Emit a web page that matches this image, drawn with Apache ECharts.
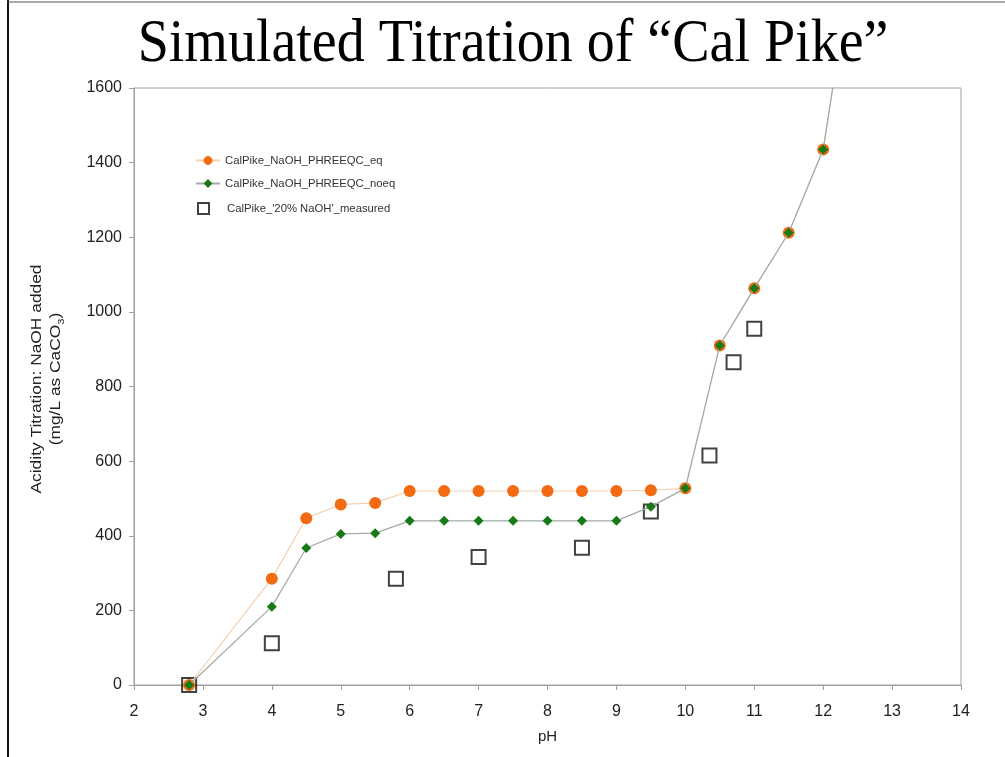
<!DOCTYPE html>
<html>
<head>
<meta charset="utf-8">
<script src="https://cdn.jsdelivr.net/npm/echarts@6/dist/echarts.min.js"></script>
<style>html,body{margin:0;padding:0;background:#fff;}#c{width:1005px;height:757px;}</style>
</head>
<body>
<div id="c"></div>
<script>
// ---- data ----
const titleText = 'Simulated Titration of \u201cCal Pike\u201d';
const seriesNames = ['CalPike_NaOH_PHREEQC_eq', 'CalPike_NaOH_PHREEQC_noeq', "CalPike_'20% NaOH'_measured"];
const modelPH = [2.8, 4, 4.5, 5, 5.5, 6, 6.5, 7, 7.5, 8, 8.5, 9, 9.5, 10, 10.5, 11, 11.5, 12, 12.5];
const eqValues = [0, 285, 447, 484, 488, 520, 520, 520, 520, 520, 520, 520, 522, 527, 910, 1063, 1212, 1435, 2030];
const noeqValues = [0, 210, 367, 405, 407, 440, 440, 440, 440, 440, 440, 440, 478, 527, 910, 1063, 1212, 1435, 2030];
const measuredPH = [2.8, 4, 5.8, 7, 8.5, 9.5, 10.35, 10.7, 11];
const measuredValues = [0, 112, 285, 343, 368, 465, 615, 865, 955];
const xTicks = [2, 3, 4, 5, 6, 7, 8, 9, 10, 11, 12, 13, 14];
const yTicks = [0, 200, 400, 600, 800, 1000, 1200, 1400, 1600];

const lastHidden = modelPH.length - 1; // last model point lies beyond the axis top (line only)
function modelData(vals) {
  return modelPH.map((x, i) => i === lastHidden ? { value: [x, vals[i]], symbol: 'none' } : [x, vals[i]]);
}

const chart = echarts.init(document.getElementById('c'), null, { renderer: 'canvas' });
const axisFont = { fontFamily: 'Liberation Sans, Arial', fontSize: 16, color: '#222' };
const legendText = { fontFamily: 'Liberation Sans, Arial', fontSize: 11.3, color: '#333' };

chart.setOption({
  backgroundColor: '#fff',
  animation: false,
  grid: { left: 134, right: 44, top: 88, bottom: 72, show: true, borderColor: '#a0a0a0', borderWidth: 1, backgroundColor: 'transparent' },
  xAxis: {
    type: 'value', min: xTicks[0], max: xTicks[xTicks.length - 1], interval: 1,
    axisLine: { lineStyle: { color: '#a0a0a0' } },
    axisTick: { show: true, length: 5, lineStyle: { color: '#a0a0a0' } },
    splitLine: { show: false },
    axisLabel: Object.assign({ margin: 19, formatter: v => String(v) }, axisFont),
    name: 'pH', nameLocation: 'middle', nameGap: 44,
    nameTextStyle: { fontFamily: 'Liberation Sans, Arial', fontSize: 15, color: '#222' }
  },
  yAxis: {
    type: 'value', min: yTicks[0], max: yTicks[yTicks.length - 1], interval: 200,
    axisLine: { show: true, lineStyle: { color: '#a0a0a0' } },
    axisTick: { show: true, length: 5, lineStyle: { color: '#a0a0a0' } },
    splitLine: { show: false },
    axisLabel: Object.assign({ margin: 12, formatter: v => String(v) }, axisFont)
  },
  legend: [
    {
      data: [seriesNames[0], seriesNames[1]],
      orient: 'vertical', left: 190, top: 150, itemGap: 12,
      itemWidth: 24, itemHeight: 11,
      textStyle: legendText
    },
    {
      data: [seriesNames[2]],
      orient: 'vertical', left: 192, top: 197,
      itemWidth: 11, itemHeight: 11, itemGap: 0,
      textStyle: Object.assign({ padding: [0, 0, 0, 13] }, legendText)
    }
  ],
  graphic: [
    { type: 'line', shape: { x1: 8, y1: 0, x2: 8, y2: 757 }, style: { stroke: '#111', lineWidth: 2 }, silent: true },
    { type: 'line', shape: { x1: 7, y1: 2, x2: 1005, y2: 2 }, style: { stroke: '#555', lineWidth: 1 }, silent: true },
    {
      type: 'text', x: 513, y: 45, originX: 0, originY: 0, scaleY: 1.1, silent: true,
      style: { text: titleText, font: '56px "Liberation Serif", "Times New Roman", serif', fill: '#000', align: 'center', verticalAlign: 'middle' }
    },
    {
      type: 'text', x: 47, y: 379, rotation: Math.PI / 2, scaleX: 1.24, silent: true,
      style: {
        text: '{a|Acidity Titration: NaOH added}\n{a|(mg/L as CaCO}{s|3}{a|)}',
        align: 'center', verticalAlign: 'middle',
        rich: {
          a: { fontFamily: 'Liberation Sans, Arial', fontSize: 14, fill: '#222', lineHeight: 19 },
          s: { fontFamily: 'Liberation Sans, Arial', fontSize: 9, fill: '#222', lineHeight: 19, verticalAlign: 'bottom', padding: [6, 0, 0, 0] }
        }
      }
    }
  ],
  series: [
    {
      name: seriesNames[2], type: 'scatter', z: 2,
      data: measuredPH.map((x, i) => [x, measuredValues[i]]),
      symbol: 'rect', symbolSize: 14,
      itemStyle: { color: 'rgba(255,255,255,0)', borderColor: '#111', borderWidth: 2 }
    },
    {
      name: seriesNames[0], type: 'line', z: 3,
      data: modelData(eqValues),
      symbol: 'circle', symbolSize: 12, showAllSymbol: true,
      lineStyle: { color: '#f6cfae', width: 1.2 },
      itemStyle: { color: '#f26b12', borderWidth: 0 }
    },
    {
      name: seriesNames[1], type: 'line', z: 4,
      data: modelData(noeqValues),
      symbol: 'diamond', symbolSize: 10, showAllSymbol: true,
      lineStyle: { color: '#a3aaa3', width: 1.2 },
      itemStyle: { color: '#177a17', borderWidth: 0 }
    }
  ]
});
</script>
</body>
</html>
